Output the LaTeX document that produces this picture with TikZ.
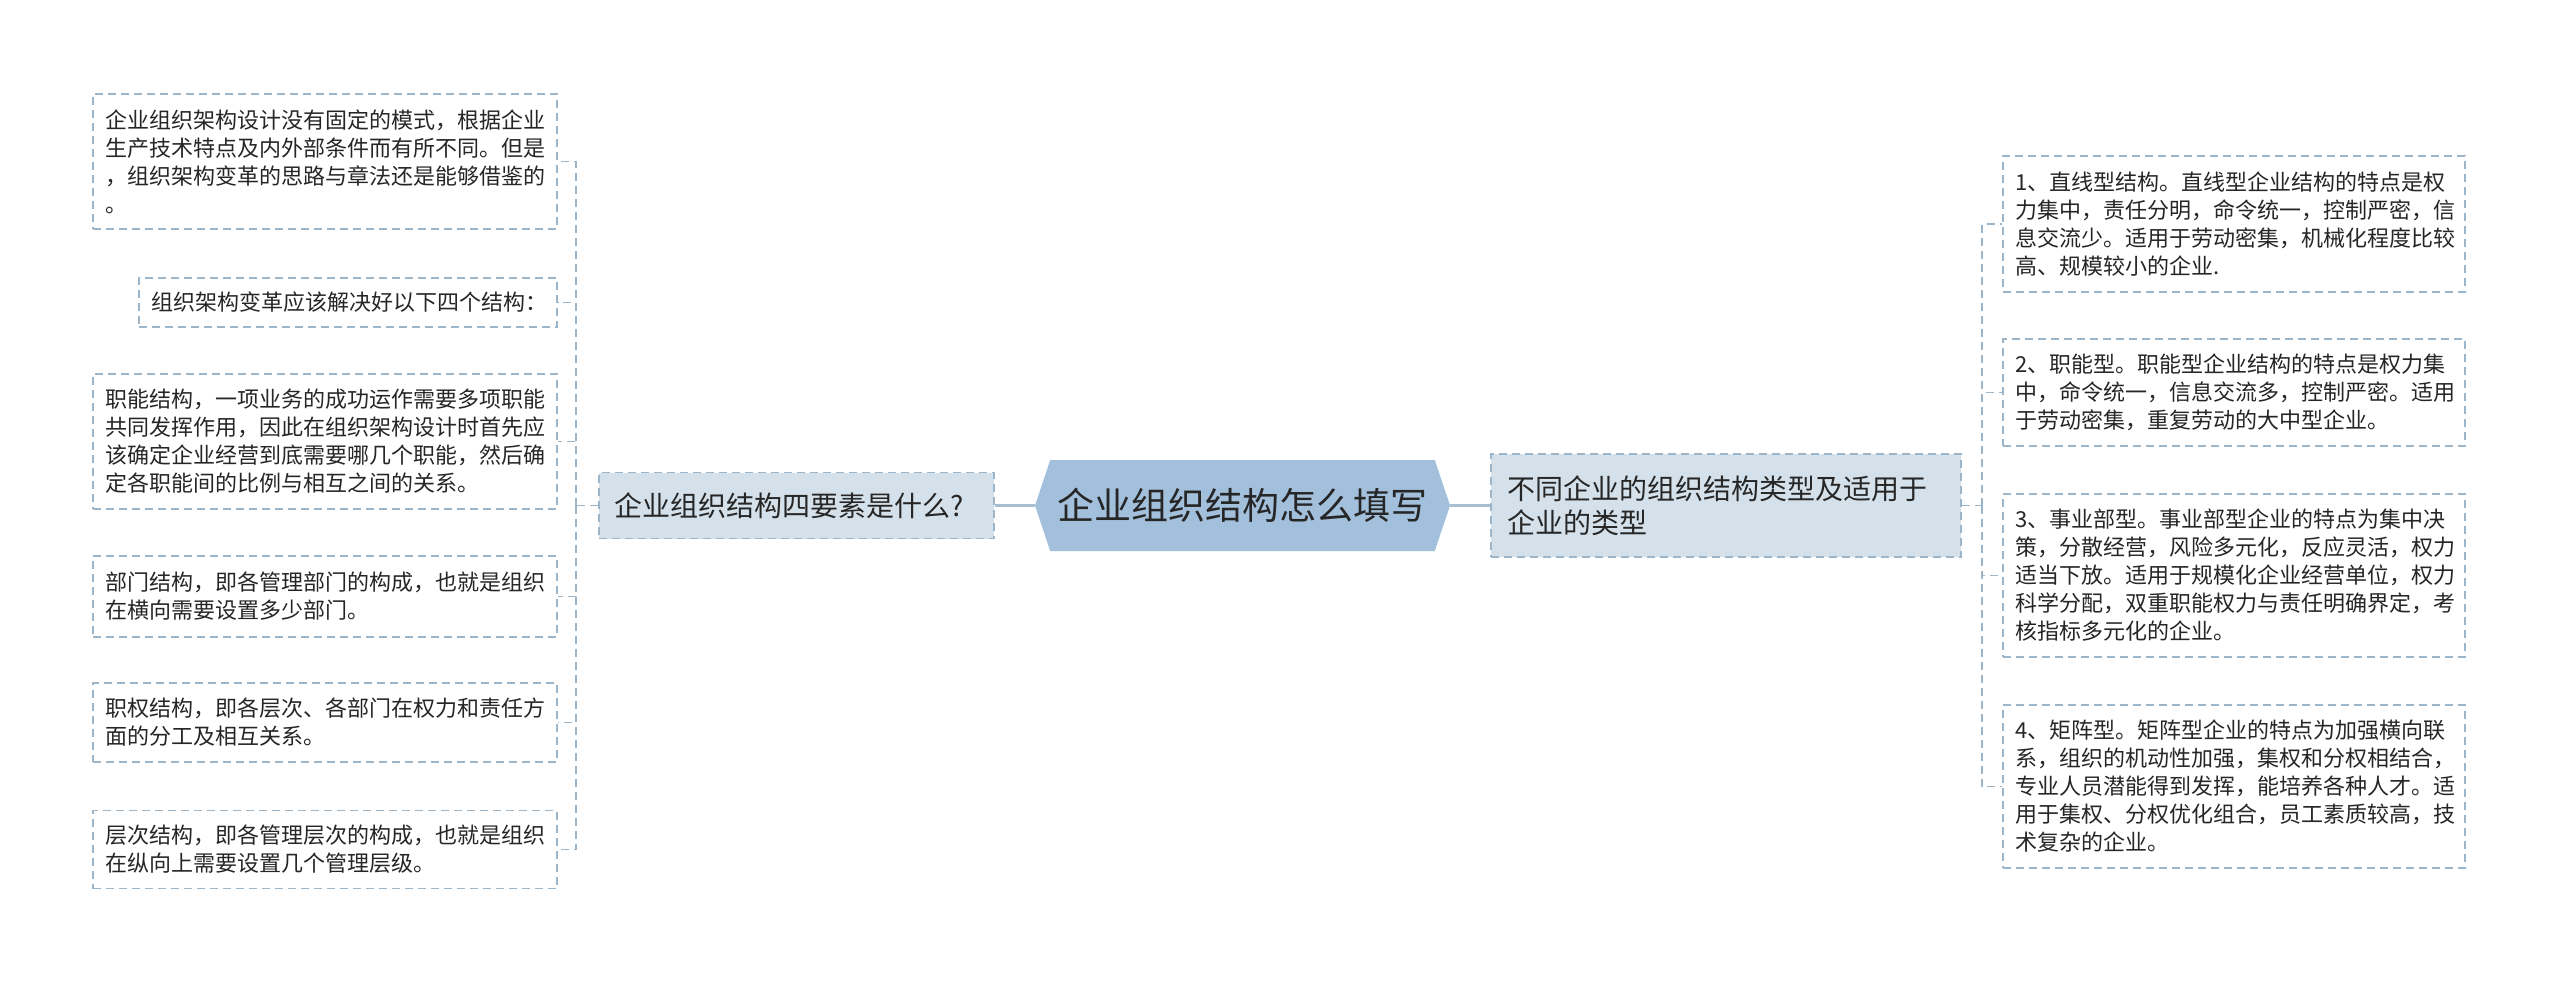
\documentclass[tikz,border=0pt]{standalone}
\usepackage{fontspec}
\setmainfont{Noto Sans CJK SC}
\usetikzlibrary{shapes.symbols}
\definecolor{bordc}{HTML}{9DB5C8}
\definecolor{parentc}{HTML}{D5E1EA}
\definecolor{hexc}{HTML}{A2BFDB}
\definecolor{mainc}{HTML}{A7BFD3}
\definecolor{textc}{HTML}{262626}
\tikzset{
  leaf/.style={draw=bordc, dash pattern=on 8pt off 5pt, line width=1.8pt, inner xsep=12pt, inner ysep=0pt,
    align=left, font=\fontsize{22}{28}\selectfont, text=textc, fill=white},
  parentbox/.style={draw=bordc, dash pattern=on 8pt off 5pt, line width=1.8pt, fill=parentc, inner ysep=0pt,
    align=left, font=\fontsize{28}{34}\selectfont, text=textc},
  bracket/.style={draw=bordc, dash pattern=on 8pt off 5pt, line width=1.8pt},
  mainline/.style={draw=mainc, line width=3pt},
  hexnode/.style={signal, signal to=east and west, signal pointer angle=143, fill=hexc, inner sep=0pt,
    minimum width=415pt, minimum height=91pt, font=\fontsize{37}{40}\selectfont, text=textc}
}
\begin{document}
\begin{tikzpicture}[x=1pt,y=-1pt]
\useasboundingbox[fill=white] (0,0) rectangle (2560,983);

% left leaves
\node[leaf, minimum width=464, minimum height=135, text width=440] (a) at (325,161.5)
  {企业组织架构设计没有固定的模式，根据企业\\生产技术特点及内外部条件而有所不同。但是\\，组织架构变革的思路与章法还是能够借鉴的\\。};
\node[leaf, minimum width=418, minimum height=49, text width=394] (b) at (348,302.5)
  {组织架构变革应该解决好以下四个结构：};
\node[leaf, minimum width=464, minimum height=135, text width=440] (c) at (325,441.5)
  {职能结构，一项业务的成功运作需要多项职能\\共同发挥作用，因此在组织架构设计时首先应\\该确定企业经营到底需要哪几个职能，然后确\\定各职能间的比例与相互之间的关系。};
\node[leaf, minimum width=464, minimum height=81, text width=440] (d) at (325,596.5)
  {部门结构，即各管理部门的构成，也就是组织\\在横向需要设置多少部门。};
\node[leaf, minimum width=464, minimum height=79, text width=440] (e) at (325,722.5)
  {职权结构，即各层次、各部门在权力和责任方\\面的分工及相互关系。};
\node[leaf, minimum width=464, minimum height=78, text width=440] (f) at (325,849.5)
  {层次结构，即各管理层次的构成，也就是组织\\在纵向上需要设置几个管理层级。};

% left parent
\node[parentbox, minimum width=395, minimum height=66, inner xsep=15pt, text width=365] (lp) at (796.5,505.5)
  {企业组织结构四要素是什么?};

% center
\node[hexnode] (hex) at (1242.5,505.5) {企业组织结构怎么填写};

% right parent
\node[parentbox, minimum width=470, minimum height=103, inner xsep=16pt, text width=438] (rp) at (1726,505.5)
  {不同企业的组织结构类型及适用于\\企业的类型};

% right leaves
\node[leaf, minimum width=462, minimum height=136, text width=438] (r1) at (2234,224)
  {1、直线型结构。直线型企业结构的特点是权\\力集中，责任分明，命令统一，控制严密，信\\息交流少。适用于劳动密集，机械化程度比较\\高、规模较小的企业.};
\node[leaf, minimum width=462, minimum height=107, text width=438] (r2) at (2234,392.5)
  {2、职能型。职能型企业结构的特点是权力集\\中，命令统一，信息交流多，控制严密。适用\\于劳动密集，重复劳动的大中型企业。};
\node[leaf, minimum width=462, minimum height=163, text width=438] (r3) at (2234,575.5)
  {3、事业部型。事业部型企业的特点为集中决\\策，分散经营，风险多元化，反应灵活，权力\\适当下放。适用于规模化企业经营单位，权力\\科学分配，双重职能权力与责任明确界定，考\\核指标多元化的企业。};
\node[leaf, minimum width=462, minimum height=163, text width=438] (r4) at (2234,786.5)
  {4、矩阵型。矩阵型企业的特点为加强横向联\\系，组织的机动性加强，集权和分权相结合，\\专业人员潜能得到发挥，能培养各种人才。适\\用于集权、分权优化组合，员工素质较高，技\\术复杂的企业。};

% connectors
\coordinate (lj) at (576,505.5);
\coordinate (rj) at (1982,505.5);
\draw[bracket] (lp.west) -- (lj);
\foreach \n in {a,b,c,d,e,f} \draw[bracket] (lj) |- (\n.east);
\draw[bracket] (rp.east) -- (rj);
\foreach \n in {r1,r2,r3,r4} \draw[bracket] (rj) |- (\n.west);
\draw[mainline] (lp.east) -- (hex.west);
\draw[mainline] (hex.east) -- (rp.west);
\end{tikzpicture}
\end{document}
